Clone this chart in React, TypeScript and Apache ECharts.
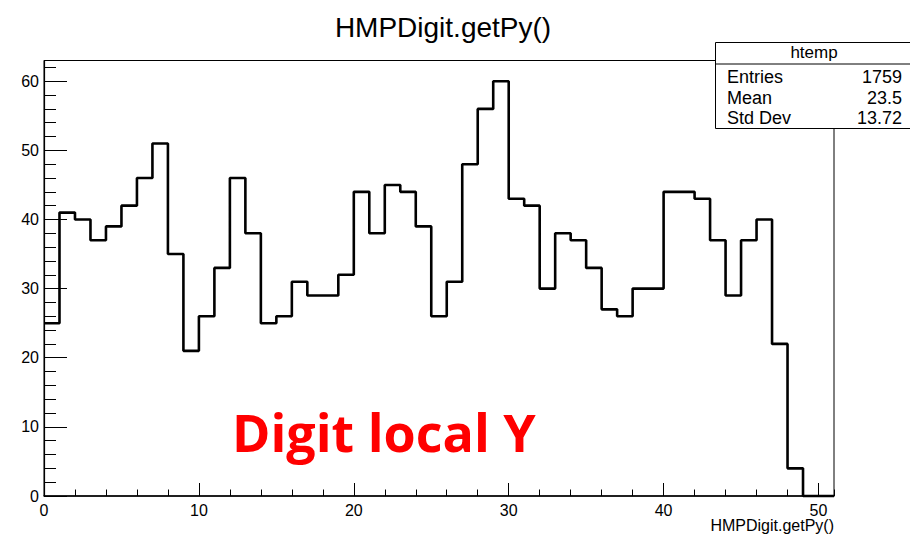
import React, { useEffect, useRef } from "react";
import * as echarts from "echarts";

// Histogram bin contents (bins of width 1 from 0 to 51)
const binValues: number[] = [
  25, 41, 40, 37, 39, 42, 46, 51, 35, 21,
  26, 33, 46, 38, 25, 26, 31, 29, 29, 32,
  44, 38, 45, 44, 39, 26, 31, 48, 56, 60,
  43, 42, 30, 38, 37, 33, 27, 26, 30, 30,
  44, 44, 43, 37, 29, 37, 40, 22, 4, 0,
  0,
];
const binLow = 0;
const binWidth = 1;

const chartTitle = "HMPDigit.getPy()";
const xAxisTitle = "HMPDigit.getPy()";
const statsName = "htemp";
const statsLabels = ["Entries", "Mean", "Std Dev"];
const statsValues = ["1759", "23.5", "13.72"];
const annotation = "Digit local Y";

const xMin = 0;
const xMax = 51;
const yMin = 0;
const yMax = 63;

export default function App() {
  const ref = useRef<HTMLDivElement>(null);

  useEffect(() => {
    if (!ref.current) return;
    const chart = echarts.init(ref.current, undefined, { renderer: "svg" });

    const points: number[][] = binValues.map((v, i) => [binLow + i * binWidth, v]);
    points.push([binLow + binValues.length * binWidth, binValues[binValues.length - 1]]);

    const font = "Liberation Sans, Arial, Helvetica, sans-serif";
    const boxLeft = 715.5;
    const boxTop = 42.5;
    const boxBottom = 128.5;
    const headerLine = 64;

    const statsTexts: any[] = [];
    const rowMid = [76.5, 97.5, 118];
    statsLabels.forEach((lab, i) => {
      statsTexts.push({
        type: "text",
        x: 727,
        y: rowMid[i],
        z: 102,
        style: { text: lab, fontSize: 18, fontFamily: font, fill: "#000", textAlign: "left", textVerticalAlign: "middle" },
      });
      statsTexts.push({
        type: "text",
        x: 902,
        y: rowMid[i],
        z: 102,
        style: { text: statsValues[i], fontSize: 18, fontFamily: font, fill: "#000", textAlign: "right", textVerticalAlign: "middle" },
      });
    });

    chart.setOption({
      animation: false,
      backgroundColor: "#fff",
      grid: {
        left: 44,
        right: 76,
        top: 60.5,
        bottom: 38,
        show: true,
        borderColor: "#000",
        borderWidth: 1,
        backgroundColor: "transparent",
      },
      xAxis: [
        {
          type: "value",
          min: xMin,
          max: xMax,
          interval: 10,
          position: "bottom",
          axisLine: { show: true, lineStyle: { color: "#000", width: 1.5 } },
          axisTick: { show: true, inside: true, length: 13, lineStyle: { color: "#000", width: 1 } },
          axisLabel: { show: true, margin: 6, color: "#000", fontSize: 16, fontFamily: font, showMaxLabel: false },
          splitLine: { show: false },
        },
        {
          type: "value",
          min: xMin,
          max: xMax,
          interval: 2,
          position: "bottom",
          axisLine: { show: false },
          axisTick: { show: true, inside: true, length: 6.5, lineStyle: { color: "#000", width: 1 } },
          axisLabel: { show: false },
          splitLine: { show: false },
        },
      ],
      yAxis: [
        {
          type: "value",
          min: yMin,
          max: yMax,
          interval: 10,
          position: "left",
          axisLine: { show: true, lineStyle: { color: "#000", width: 1.2 } },
          axisTick: { show: true, inside: true, length: 23, lineStyle: { color: "#000", width: 1 } },
          axisLabel: { show: true, margin: 5, color: "#000", fontSize: 16, fontFamily: font, showMaxLabel: false },
          splitLine: { show: false },
        },
        {
          type: "value",
          min: yMin,
          max: yMax,
          interval: 2,
          position: "left",
          axisLine: { show: false },
          axisTick: { show: true, inside: true, length: 12, lineStyle: { color: "#000", width: 1 } },
          axisLabel: { show: false },
          splitLine: { show: false },
        },
      ],
      series: [
        {
          type: "line",
          xAxisIndex: 0,
          yAxisIndex: 0,
          step: "end",
          data: points,
          showSymbol: false,
          symbol: "none",
          lineStyle: { color: "#000", width: 2.6 },
          clip: false,
        },
      ],
      graphic: [
        {
          type: "text",
          x: 443,
          y: 27,
          style: { text: chartTitle, fontSize: 28, fontFamily: font, fill: "#000", textAlign: "center", textVerticalAlign: "middle" },
        },
        {
          type: "text",
          x: 834,
          y: 525.5,
          style: { text: xAxisTitle, fontSize: 16, fontFamily: font, fill: "#000", textAlign: "right", textVerticalAlign: "middle" },
        },
        {
          type: "rect",
          z: 100,
          shape: { x: boxLeft, y: boxTop, width: 910 - boxLeft + 5, height: boxBottom - boxTop },
          style: { fill: "#fff", stroke: "#000", lineWidth: 1 },
        },
        {
          type: "line",
          z: 101,
          shape: { x1: boxLeft, y1: headerLine, x2: 915, y2: headerLine },
          style: { stroke: "#000", lineWidth: 1 },
        },
        {
          type: "text",
          x: 814,
          y: 52.5,
          z: 102,
          style: { text: statsName, fontSize: 17, fontFamily: font, fill: "#000", textAlign: "center", textVerticalAlign: "middle" },
        },
        ...statsTexts,
        {
          type: "text",
          x: 232,
          y: 431,
          z: 102,
          style: { text: annotation, fontSize: 52, fontWeight: "bold", fontFamily: "Open Sans, sans-serif", fill: "#ff0000", textAlign: "left", textVerticalAlign: "middle" },
        },
      ],
    });

    return () => chart.dispose();
  }, []);

  return (
    <div
      ref={ref}
      style={{ position: "fixed", left: 0, top: 0, width: 910, height: 534, background: "#fff" }}
    />
  );
}
